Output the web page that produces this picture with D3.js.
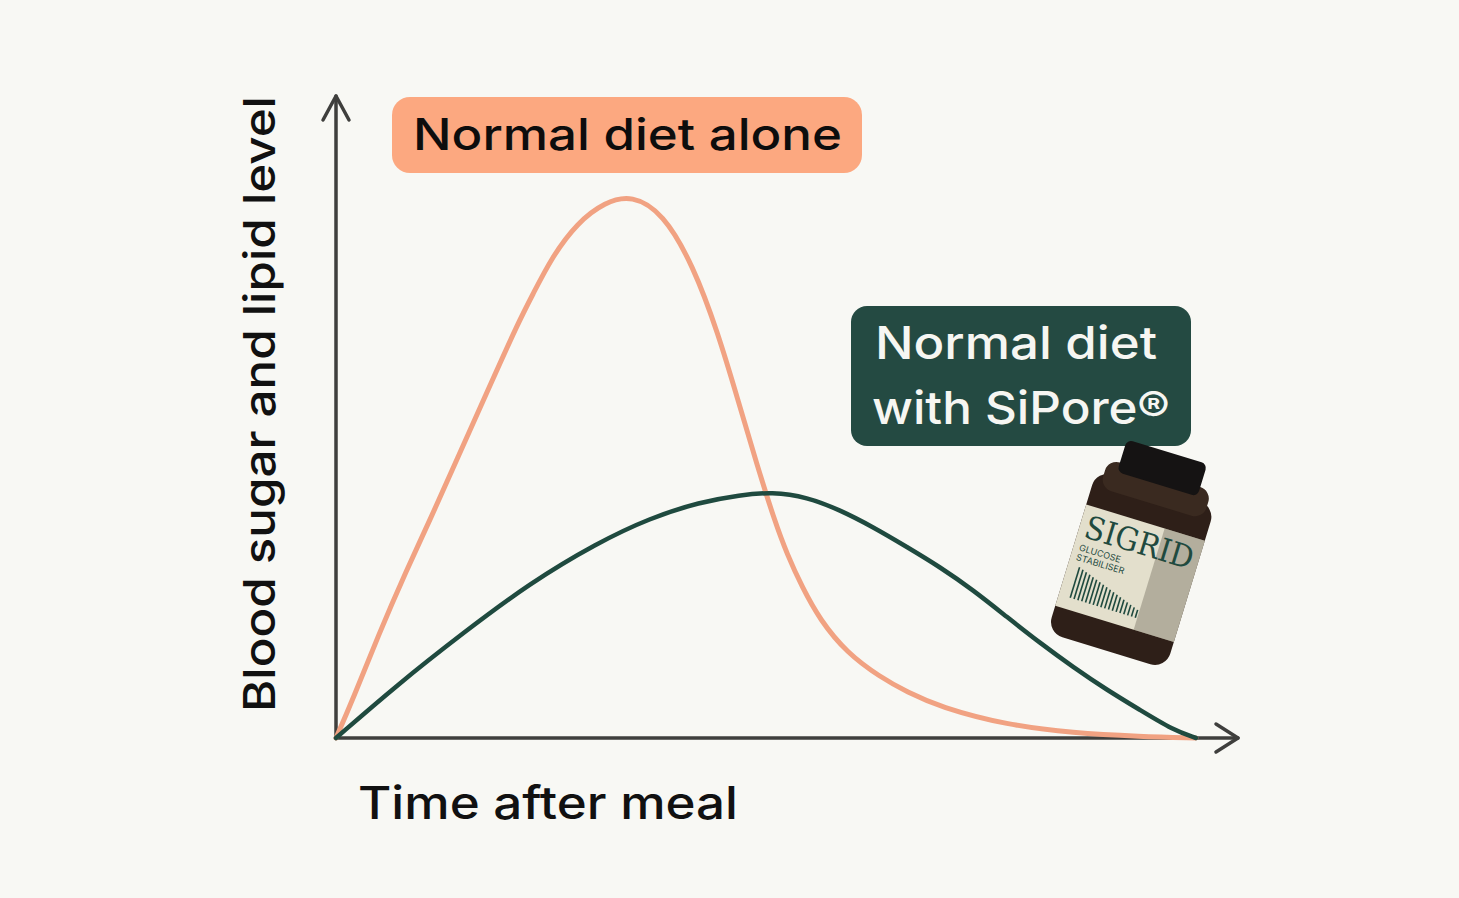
<!DOCTYPE html>
<html>
<head>
<meta charset="utf-8">
<script src="https://cdn.jsdelivr.net/npm/d3@7"></script>
<style>
  body { margin: 0; background: #f8f8f4; }
  svg { display: block; }
  text { font-family: Inter, 'Noto Sans', sans-serif; }
</style>
</head>
<body>
<svg class="chartSVG" width="1459" height="898"></svg>
<script>

// curve readings: time after meal (0-100) vs level (0-100, 100 = orange peak)
const aloneTime  = [0, 1.98, 4.88, 8.26, 10.93, 14.19, 17.67, 21.16, 22.91, 25.12, 28.02, 31.28, 34.42, 38.02, 41.51, 44.42, 46.74, 48.95, 51.05, 52.44, 54.19, 56.28, 59.42, 63.26, 66.40, 70.23, 78.02, 85.70, 93.49, 100];
const aloneLevel = [0, 7.18, 18.78, 31.12, 40.15, 51.75, 64.09, 76.43, 81.77, 88.58, 94.84, 98.71, 100, 96.69, 87.11, 74.59, 62.25, 50.28, 39.78, 33.89, 27.81, 21.73, 15.65, 11.23, 8.47, 5.71, 2.39, 0.92, 0.28, 0];

const siporeTime  = [0, 7.09, 14.77, 22.56, 30.35, 36.51, 42.33, 46.98, 50.70, 54.77, 58.60, 62.44, 66.40, 70.23, 74.07, 78.02, 81.86, 85.70, 89.65, 93.49, 97.33, 100];
const siporeLevel = [0, 9.76, 19.34, 28.55, 35.91, 40.52, 43.46, 44.75, 45.30, 44.38, 41.99, 38.86, 35.17, 31.49, 27.26, 22.28, 17.50, 13.08, 8.84, 5.16, 1.47, 0];

const seriesNames = ['Normal diet alone', 'Normal diet with SiPore®'];
const seriesCols = ['#f1a282', '#1f4a3f'];
const axisTitles = ['Time after meal', 'Blood sugar and lipid level'];

const svg = d3.select('svg.chartSVG');

const xScale = d3.scaleLinear().domain([0, 100]).range([336, 1196]);
const yScale = d3.scaleLinear().domain([0, 100]).range([738, 195]);

const series = [
  {name: seriesNames[0], col: seriesCols[0], width: 5, pts: aloneTime.map((t, i) => [t, aloneLevel[i]])},
  {name: seriesNames[1], col: seriesCols[1], width: 4.5, pts: siporeTime.map((t, i) => [t, siporeLevel[i]])}
];

svg.append('rect')
  .attr('width', 1459)
  .attr('height', 898)
  .style('fill', '#f8f8f4');

// axes with arrow heads
const axisGrp = svg.append('g')
  .attr('class', 'axes')
  .style('stroke', '#3f3f3d')
  .style('stroke-width', 3.5)
  .style('stroke-linecap', 'round')
  .style('stroke-linejoin', 'round')
  .style('fill', 'none');

const ox = xScale(0), oy = yScale(0);
const yTop = 96, xEnd = 1238;

axisGrp.append('path').attr('d', `M${ox},${oy}V${yTop}`);
axisGrp.append('path').attr('d', `M${ox - 13},${yTop + 24}L${ox},${yTop}L${ox + 13},${yTop + 24}`);
axisGrp.append('path').attr('d', `M${ox},${oy}H${xEnd}`);
axisGrp.append('path').attr('d', `M${xEnd - 22},${oy - 14}L${xEnd},${oy}L${xEnd - 22},${oy + 14}`);

// curves
const line = d3.line()
  .x(d => xScale(d[0]))
  .y(d => yScale(d[1]))
  .curve(d3.curveBasis);

svg.append('g')
  .attr('class', 'curves')
  .selectAll('path')
  .data(series)
  .enter()
  .append('path')
  .attr('d', d => line(d.pts))
  .style('fill', 'none')
  .style('stroke', d => d.col)
  .style('stroke-width', d => d.width)
  .style('stroke-linecap', 'round');

// axis titles
svg.append('text')
  .attr('x', 358)
  .attr('y', 819)
  .attr('textLength', 380)
  .attr('lengthAdjust', 'spacingAndGlyphs')
  .style('font-size', '45px')
  .style('font-weight', 500)
  .style('fill', '#111')
  .text(axisTitles[0]);

svg.append('text')
  .attr('transform', 'translate(275,404) rotate(-90)')
  .attr('textLength', 616)
  .attr('lengthAdjust', 'spacingAndGlyphs')
  .style('text-anchor', 'middle')
  .style('font-size', '44px')
  .style('font-weight', 500)
  .style('fill', '#111')
  .text(axisTitles[1]);

// labels
const lab1 = svg.append('g').attr('class', 'label alone');
lab1.append('rect')
  .attr('x', 392).attr('y', 97)
  .attr('width', 470).attr('height', 76)
  .attr('rx', 18)
  .style('fill', '#fca880');
lab1.append('text')
  .attr('x', 413).attr('y', 150)
  .attr('textLength', 429)
  .attr('lengthAdjust', 'spacingAndGlyphs')
  .style('font-size', '44px')
  .style('font-weight', 500)
  .style('fill', '#0d0d0d')
  .text(seriesNames[0]);

const lab2 = svg.append('g').attr('class', 'label sipore');
lab2.append('rect')
  .attr('x', 851).attr('y', 306)
  .attr('width', 340).attr('height', 140)
  .attr('rx', 16)
  .style('fill', '#244a42');
const lab2Text = lab2.append('text')
  .style('font-size', '45px')
  .style('font-weight', 500)
  .style('fill', '#f6f6f2');
lab2Text.append('tspan')
  .attr('x', 875).attr('y', 359)
  .attr('textLength', 282)
  .attr('lengthAdjust', 'spacingAndGlyphs')
  .text('Normal diet');
lab2Text.append('tspan')
  .attr('x', 872).attr('y', 424)
  .attr('textLength', 298)
  .attr('lengthAdjust', 'spacingAndGlyphs')
  .text('with SiPore®');

// product bottle
const bottle = svg.append('g')
  .attr('class', 'bottle')
  .attr('transform', 'translate(1135,557) rotate(17)');

bottle.append('rect')
  .attr('x', -62).attr('y', -72)
  .attr('width', 124).attr('height', 170)
  .attr('rx', 16)
  .style('fill', '#2e1f18');
bottle.append('rect')
  .attr('x', -54).attr('y', -86)
  .attr('width', 108).attr('height', 30)
  .attr('rx', 12)
  .style('fill', '#3a2a20');
bottle.append('rect')
  .attr('x', -42).attr('y', -110)
  .attr('width', 84).attr('height', 34)
  .attr('rx', 6)
  .style('fill', '#151313');
bottle.append('rect')
  .attr('x', -62).attr('y', -36)
  .attr('width', 124).attr('height', 106)
  .style('fill', '#e3dfcc');
bottle.append('rect')
  .attr('x', 20).attr('y', -36)
  .attr('width', 42).attr('height', 106)
  .style('fill', '#5a5246')
  .style('fill-opacity', 0.35);
bottle.append('text')
  .attr('x', -56).attr('y', -4)
  .attr('textLength', 112)
  .attr('lengthAdjust', 'spacingAndGlyphs')
  .style('font-family', "'DejaVu Serif', serif")
  .style('font-size', '32px')
  .style('fill', '#1f4a3f')
  .text('SIGRID');
bottle.append('text')
  .attr('x', -56).attr('y', 10)
  .style('font-size', '9px')
  .style('fill', '#1f4a3f')
  .text('GLUCOSE');
bottle.append('text')
  .attr('x', -56).attr('y', 20)
  .style('font-size', '9px')
  .style('fill', '#1f4a3f')
  .text('STABILISER');
bottle.append('g')
  .selectAll('line')
  .data(d3.range(18))
  .enter()
  .append('line')
  .attr('x1', i => -50 + i * 4)
  .attr('x2', i => -50 + i * 4)
  .attr('y1', i => 26 + i * 1.4)
  .attr('y2', 58)
  .style('stroke', '#1f4a3f')
  .style('stroke-width', 1.6);

</script>
</body>
</html>
